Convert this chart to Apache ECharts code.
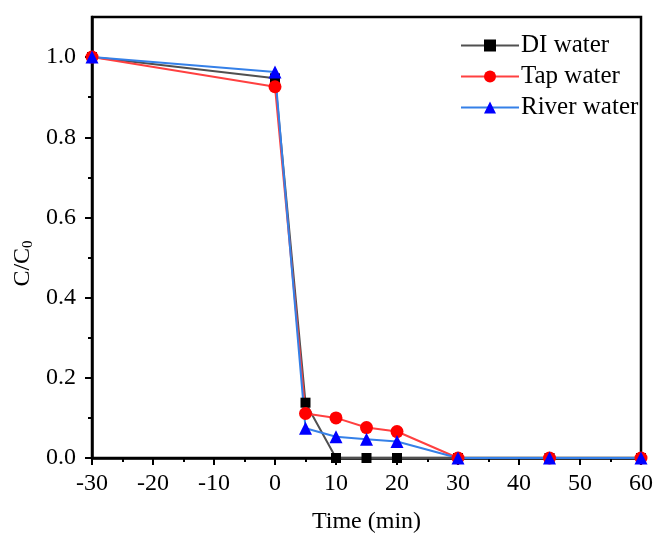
<!DOCTYPE html>
<html><head><meta charset="utf-8">
<script src="https://cdn.jsdelivr.net/npm/echarts@6/dist/echarts.min.js"></script>
<style>html,body{margin:0;padding:0;background:#fff}#c{width:654px;height:537px}</style>
</head><body><div id="c"></div>
<script>
const times = [-30, 0, 5, 10, 15, 20, 30, 45, 60];
const diWater = [1.0, 0.947, 0.138, 0, 0, 0, 0, 0, 0];
const tapWater = [1.0, 0.926, 0.111, 0.100, 0.076, 0.066, 0, 0, 0];
const riverWater = [1.0, 0.963, 0.074, 0.053, 0.047, 0.041, 0, 0, 0];
const yMajor = [0, 0.2, 0.4, 0.6, 0.8, 1.0];
const yMinor = [0.1, 0.3, 0.5, 0.7, 0.9];

const font = 'Liberation Serif';
const pair = (arr) => times.map((t, i) => [t, arr[i]]);

const chart = echarts.init(document.getElementById('c'));
chart.setOption({
  animation: false,
  grid: {left: 92, right: 13, top: 17, bottom: 79, show: true, borderColor: '#000', borderWidth: 2.5,
         containLabel: false, outerBoundsMode: 'none'},
  legend: {
    left: 455, top: 28, orient: 'vertical', itemGap: 6, itemWidth: 58, itemHeight: 15,
    textStyle: {fontFamily: font, fontSize: 25, color: '#000', padding: [0,0,0,-3]},
    data: ['DI water', 'Tap water', 'River water']
  },
  xAxis: {
    type: 'value', min: -30, max: 60, interval: 10,
    name: 'Time (min)', nameLocation: 'middle', nameGap: 52,
    nameTextStyle: {fontFamily: font, fontSize: 24, color: '#000'},
    axisLine: {onZero: false, lineStyle: {color: '#000', width: 2.5}},
    axisTick: {length: 7, lineStyle: {color: '#000', width: 2}},
    minorTick: {show: true, splitNumber: 2, length: 4, lineStyle: {color: '#000', width: 2}},
    axisLabel: {fontFamily: font, fontSize: 24, color: '#000', margin: 14},
    splitLine: {show: false}
  },
  yAxis: [{
    type: 'value', min: 0, max: 1.1, interval: 0.2,
    name: '{a|C/C}{b|0}', nameLocation: 'middle', nameGap: 56,
    nameTextStyle: {fontFamily: font, fontSize: 24, color: '#000', padding: [0, 52, 0, 0],
      rich: {a: {fontFamily: font, fontSize: 24, color: '#000'}, b: {fontFamily: font, fontSize: 15, color: '#000', verticalAlign: 'bottom', padding: [10,0,0,0]}}},
    axisLine: {onZero: false, lineStyle: {color: '#000', width: 2.5}},
    axisTick: {customValues: yMajor, length: 7, lineStyle: {color: '#000', width: 2}},
    axisLabel: {customValues: yMajor, fontFamily: font, fontSize: 24, color: '#000', margin: 16, formatter: v => v.toFixed(1)},
    splitLine: {show: false}
  }, {
    type: 'value', min: 0, max: 1.1, interval: 0.2, position: 'left',
    axisLine: {show: false, onZero: false},
    axisTick: {customValues: yMinor, length: 4, lineStyle: {color: '#000', width: 2}},
    axisLabel: {show: false},
    splitLine: {show: false}
  }],
  series: [
    {name: 'DI water', type: 'line', data: pair(diWater), symbol: 'rect', symbolSize: 10,
     itemStyle: {color: '#000'}, lineStyle: {color: '#505050', width: 2}},
    {name: 'Tap water', type: 'line', data: pair(tapWater), symbol: 'circle', symbolSize: 13,
     itemStyle: {color: '#ff0000'}, lineStyle: {color: '#ff4040', width: 2}},
    {name: 'River water', type: 'line', data: pair(riverWater), symbol: 'triangle', symbolSize: 13,
     itemStyle: {color: '#0000ff'}, lineStyle: {color: '#3580e8', width: 2}}
  ]
});
</script></body></html>
